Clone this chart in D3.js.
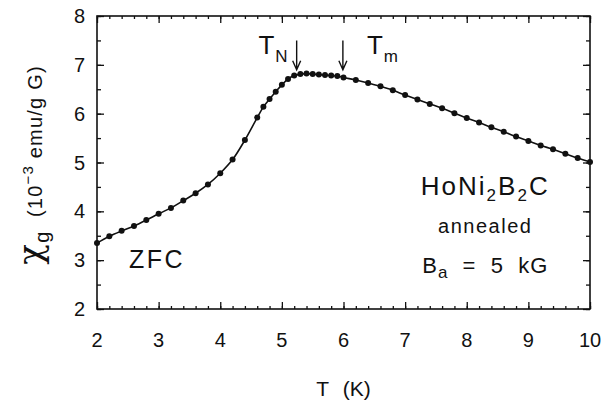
<!DOCTYPE html>
<html>
<head>
<meta charset="utf-8">
<script src="https://cdn.jsdelivr.net/npm/d3@7"></script>
<style>
  body { margin: 0; background: #fff; }
  text { font-family: "Liberation Sans", Arial, sans-serif; fill: #111; }
</style>
</head>
<body>
<script>
// Data (ZFC susceptibility of annealed HoNi2B2C)
var temps = [2.0, 2.2, 2.4, 2.6, 2.8, 3.0, 3.2, 3.4, 3.6, 3.8, 4.0, 4.2, 4.4,
  4.6, 4.7, 4.8, 4.9, 5.0, 5.1, 5.2, 5.3, 5.4, 5.5, 5.6, 5.7, 5.8, 5.9, 6.0,
  6.2, 6.4, 6.6, 6.8, 7.0, 7.2, 7.4, 7.6, 7.8, 8.0, 8.2, 8.4, 8.6, 8.8, 9.0,
  9.2, 9.4, 9.6, 9.8, 10.0];
var chi = [3.35, 3.49, 3.60, 3.70, 3.82, 3.95, 4.07, 4.22, 4.37, 4.55, 4.78, 5.06, 5.46,
  5.92, 6.14, 6.30, 6.45, 6.59, 6.71, 6.78, 6.81, 6.82, 6.81, 6.80, 6.79, 6.78, 6.77, 6.74,
  6.69, 6.63, 6.56, 6.48, 6.38, 6.29, 6.20, 6.11, 6.01, 5.91, 5.82, 5.72, 5.63, 5.53, 5.44,
  5.35, 5.27, 5.18, 5.09, 5.01];

var xTicks = [2, 3, 4, 5, 6, 7, 8, 9, 10];
var yTicks = [2, 3, 4, 5, 6, 7, 8];
var markerTemps = [5.24, 5.99];   // T_N and T_m arrows

var width = 613, height = 402;
var margin = {top: 16, right: 23, bottom: 93, left: 97};
var w = width - margin.left - margin.right;
var h = height - margin.top - margin.bottom;

var svg = d3.select("body").append("svg")
    .attr("width", width)
    .attr("height", height);

var g = svg.append("g")
    .attr("transform", "translate(" + margin.left + "," + margin.top + ")");

var x = d3.scaleLinear().domain([2, 10]).range([0, w]);
var y = d3.scaleLinear().domain([2, 8]).range([h, 0]);

// minor ticks
var xMinor = d3.range(2, 10.001, 0.2);
var yMinor = d3.range(2, 8.001, 0.5);

function tickAxis(axisFn, scale, vals, len) {
  return axisFn(scale).tickValues(vals).tickSize(len).tickFormat("");
}

// inward ticks on all four sides
g.append("g").attr("transform", "translate(0," + h + ")")
  .call(tickAxis(d3.axisTop, x, xMinor, 3));
g.append("g").attr("transform", "translate(0," + h + ")")
  .call(tickAxis(d3.axisTop, x, xTicks, 7));
g.append("g").call(tickAxis(d3.axisBottom, x, xMinor, 3));
g.append("g").call(tickAxis(d3.axisBottom, x, xTicks, 7));
g.append("g").call(tickAxis(d3.axisRight, y, yMinor, 4));
g.append("g").call(tickAxis(d3.axisRight, y, yTicks, 7));
g.append("g").attr("transform", "translate(" + w + ",0)")
  .call(tickAxis(d3.axisLeft, y, yMinor, 4));
g.append("g").attr("transform", "translate(" + w + ",0)")
  .call(tickAxis(d3.axisLeft, y, yTicks, 7));

g.selectAll(".domain").remove();
g.selectAll(".tick line").attr("stroke", "#111").attr("stroke-width", 1.3);

// frame
g.append("rect")
  .attr("width", w).attr("height", h)
  .attr("fill", "none").attr("stroke", "#111").attr("stroke-width", 1.6);

// tick labels
g.selectAll(".xlab").data(xTicks).enter().append("text")
  .attr("x", function (d) { return x(d); })
  .attr("y", h + 38)
  .attr("text-anchor", "middle")
  .style("font-size", "20px")
  .text(function (d) { return d; });

g.selectAll(".ylab").data(yTicks).enter().append("text")
  .attr("x", -12)
  .attr("y", function (d) { return y(d) + 7; })
  .attr("text-anchor", "end")
  .style("font-size", "20px")
  .text(function (d) { return d; });

// axis titles
svg.append("text")
  .attr("x", margin.left + x(6))
  .attr("y", 396)
  .attr("text-anchor", "middle")
  .style("font-size", "21px")
  .style("word-spacing", "8px")
  .text("T (K)");

var yl = svg.append("text")
  .attr("transform", "translate(42," + (margin.top + y(4.95)) + ") rotate(-90)")
  .attr("text-anchor", "middle")
  .style("font-size", "20px")
  .style("letter-spacing", "1.2px")
  .style("white-space", "pre");
yl.append("tspan").style("font-size", "34px").style("font-family", "DejaVu Serif").text("χ");
yl.append("tspan").attr("dy", 7).text("g");
yl.append("tspan").attr("dy", -7).text("  (10");
yl.append("tspan").attr("dy", -9).style("font-size", "15px").text("−3");
yl.append("tspan").attr("dy", 9).text(" emu/g G)");

// curve and points
var pts = temps.map(function (t, i) { return [t, chi[i]]; });

var line = d3.line()
  .x(function (d) { return x(d[0]); })
  .y(function (d) { return y(d[1]); })
  .curve(d3.curveCatmullRom);

g.append("path")
  .datum(pts)
  .attr("fill", "none")
  .attr("stroke", "#111")
  .attr("stroke-width", 1.6)
  .attr("d", line);

g.selectAll("circle").data(pts).enter().append("circle")
  .attr("cx", function (d) { return x(d[0]); })
  .attr("cy", function (d) { return y(d[1]); })
  .attr("r", 3)
  .attr("fill", "#111");

// arrows for T_N and T_m
markerTemps.forEach(function (t) {
  var ax = x(t), y0 = y(7.5), y1 = y(6.9);
  g.append("path")
    .attr("d", "M" + ax + "," + y0 + "L" + ax + "," + y1 +
      "M" + (ax - 4) + "," + (y1 - 9) + "L" + ax + "," + y1 + "L" + (ax + 4) + "," + (y1 - 9))
    .attr("fill", "none").attr("stroke", "#111").attr("stroke-width", 1.4);
});

function label(tx, ty, main, sub, size, subSize) {
  var t = g.append("text").attr("x", tx).attr("y", ty).style("font-size", size + "px");
  t.append("tspan").text(main);
  t.append("tspan").attr("dy", size * 0.3).attr("dx", 1).style("font-size", subSize + "px").text(sub);
  return t;
}
label(x(4.62), y(7.22), "T", "N", 26, 17);
label(x(6.38), y(7.22), "T", "m", 26, 17);

// sample annotations
var cx = x(8.3);
var hn = g.append("text")
  .attr("x", cx).attr("y", y(4.33))
  .attr("text-anchor", "middle")
  .style("font-size", "26px")
  .style("letter-spacing", "2px");
hn.append("tspan").text("HoNi");
hn.append("tspan").attr("dy", 6).style("font-size", "17px").text("2");
hn.append("tspan").attr("dy", -6).text("B");
hn.append("tspan").attr("dy", 6).style("font-size", "17px").text("2");
hn.append("tspan").attr("dy", -6).text("C");

g.append("text")
  .attr("x", cx).attr("y", y(3.56))
  .attr("text-anchor", "middle")
  .style("font-size", "20px")
  .style("letter-spacing", "1.5px")
  .text("annealed");

var ba = g.append("text")
  .attr("x", cx).attr("y", y(2.74))
  .attr("text-anchor", "middle")
  .style("font-size", "22px")
  .style("letter-spacing", "1px")
  .style("white-space", "pre");
ba.append("tspan").text("B");
ba.append("tspan").attr("dy", 5).style("font-size", "17px").text("a");
ba.append("tspan").attr("dy", -5).text("  =  5  kG");

g.append("text")
  .attr("x", x(2.52)).attr("y", y(2.84))
  .style("font-size", "25px")
  .style("letter-spacing", "2.5px")
  .text("ZFC");
</script>
</body>
</html>
